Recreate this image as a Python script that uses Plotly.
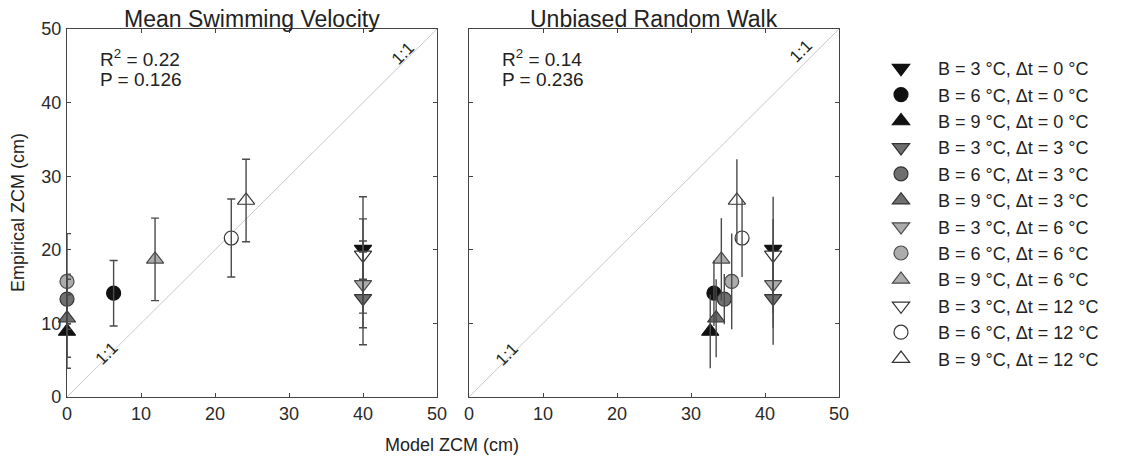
import plotly.graph_objects as go

# Treatment groups: base temperature B and temperature rise dt
labels = [
    "B = 3 °C, Δt = 0 °C", "B = 6 °C, Δt = 0 °C", "B = 9 °C, Δt = 0 °C",
    "B = 3 °C, Δt = 3 °C", "B = 6 °C, Δt = 3 °C", "B = 9 °C, Δt = 3 °C",
    "B = 3 °C, Δt = 6 °C", "B = 6 °C, Δt = 6 °C", "B = 9 °C, Δt = 6 °C",
    "B = 3 °C, Δt = 12 °C", "B = 6 °C, Δt = 12 °C", "B = 9 °C, Δt = 12 °C",
]
symbols = ["triangle-down", "circle", "triangle-up"] * 4
fills = ["#111111"] * 3 + ["#6f6f6f"] * 3 + ["#acacac"] * 3 + ["#ffffff"] * 3
edges = ["#111111"] * 3 + ["#333333"] * 3 + ["#4a4a4a"] * 3 + ["#333333"] * 3

# Model-predicted ZCM (cm) for each model
model_msv = [40.0, 6.3, 0.0, 40.0, 0.0, 0.0, 40.0, 0.0, 11.9, 40.0, 22.2, 24.2]
model_urw = [41.1, 33.1, 32.6, 41.1, 34.5, 33.4, 41.1, 35.5, 34.1, 41.1, 36.9, 36.2]

# Empirical ZCM (cm) with standard errors
empirical = [20.1, 14.1, 8.9, 13.4, 13.3, 10.7, 15.3, 15.7, 18.7, 19.3, 21.6, 26.7]
emp_err = [4.1, 4.45, 5.0, 6.3, 3.4, 5.3, 5.9, 6.5, 5.6, 7.9, 5.3, 5.6]

stats_msv = ["R<sup>2</sup> = 0.22", "P = 0.126"]
stats_urw = ["R<sup>2</sup> = 0.14", "P = 0.236"]
titles = ["Mean Swimming Velocity", "Unbiased Random Walk"]

FONT = "Arial, Liberation Sans, sans-serif"
W, H = 1127, 464

fig = go.Figure()

panels = [("x", "y", model_msv, 4), ("x2", "y2", model_urw, 0)]

for xa, ya, model, capw in panels:
    # 1:1 reference line
    fig.add_trace(go.Scatter(
        x=[0, 50], y=[0, 50], xaxis=xa, yaxis=ya, mode="lines",
        line=dict(color="#c9c9c9", width=1), showlegend=False, hoverinfo="skip"))
    for i, lab in enumerate(labels):
        sym = symbols[i]
        size = 14 if sym == "circle" else 15
        fig.add_trace(go.Scatter(
            x=[model[i]], y=[empirical[i]], xaxis=xa, yaxis=ya, mode="markers",
            name=lab, legendgroup=lab, showlegend=(xa == "x"), cliponaxis=False,
            marker=dict(symbol=sym, size=size, color=fills[i],
                        line=dict(color=edges[i], width=1.2))))
    # error bars drawn over the markers
    fig.add_trace(go.Scatter(
        x=model, y=empirical, xaxis=xa, yaxis=ya, mode="markers",
        marker=dict(size=1, color="rgba(0,0,0,0)"), cliponaxis=False,
        error_y=dict(type="data", array=emp_err, visible=True,
                     color="#4a4a4a", thickness=1.4, width=capw),
        showlegend=False, hoverinfo="skip"))

axis_common = dict(range=[0, 50], dtick=10, ticks="inside", ticklen=4,
                   tickcolor="#444", showline=True, linecolor="#444", linewidth=1.3,
                   mirror="ticks", showgrid=False, zeroline=False, automargin=False)
tickfont = dict(family=FONT, size=18, color="#2a2a2a")

x0a, x1a = 67 / W, 437 / W
x0b, x1b = 469 / W, 839 / W
yb, yt = 1 - 397 / H, 1 - 29 / H

fig.update_layout(
    width=W, height=H,
    margin=dict(l=0, r=0, t=0, b=0, autoexpand=False),
    paper_bgcolor="white", plot_bgcolor="white",
    font=dict(family=FONT, color="#222"),
    xaxis=dict(domain=[x0a, x1a], anchor="y", tickfont=tickfont,
               ticklabelstandoff=0, **axis_common),
    yaxis=dict(domain=[yb, yt], anchor="x", tickfont=tickfont,
               ticklabelstandoff=1, **axis_common),
    xaxis2=dict(domain=[x0b, x1b], anchor="y2", tickfont=tickfont,
                ticklabelstandoff=0, **axis_common),
    yaxis2=dict(domain=[yb, yt], anchor="x2", showticklabels=False, **axis_common),
    legend=dict(x=864 / W, y=1 - 50 / H, xanchor="left", yanchor="top",
                font=dict(family=FONT, size=18, color="#222"),
                bgcolor="rgba(0,0,0,0)", tracegroupgap=0, itemwidth=64),
)

ann = []
# panel titles
for title, (a, b) in zip(titles, [(x0a, x1a), (x0b, x1b)]):
    ann.append(dict(text=title, x=(a + b) / 2, y=1 - 19 / H, xref="paper", yref="paper",
                    xanchor="center", yanchor="middle", showarrow=False,
                    font=dict(family=FONT, size=23, color="#222")))
# statistics text
for (xr, yr), st in zip([("x", "y"), ("x2", "y2")], [stats_msv, stats_urw]):
    ann.append(dict(text=st[0], x=4.2, y=46.1, xref=xr, yref=yr, xanchor="left",
                    yanchor="middle", showarrow=False,
                    font=dict(family=FONT, size=19, color="#222")))
    ann.append(dict(text=st[1], x=4.2, y=43.2, xref=xr, yref=yr, xanchor="left",
                    yanchor="middle", showarrow=False,
                    font=dict(family=FONT, size=19, color="#222")))
# 1:1 labels along the diagonal
for xr, yr, pts in [("x", "y", [(5.4, 5.9), (45.4, 46.7)]),
                    ("x2", "y2", [(5.1, 5.8), (44.8, 47.0)])]:
    for px, py in pts:
        ann.append(dict(text="1:1", x=px, y=py, xref=xr, yref=yr, textangle=-45,
                        xanchor="center", yanchor="middle", showarrow=False,
                        font=dict(family=FONT, size=17, color="#222")))
# shared axis titles
ann.append(dict(text="Model ZCM (cm)", x=452 / W, y=1 - 445 / H, xref="paper", yref="paper",
                xanchor="center", yanchor="middle", showarrow=False,
                font=dict(family=FONT, size=18, color="#222")))
ann.append(dict(text="Empirical ZCM (cm)", x=18 / W, y=1 - 213 / H, xref="paper",
                yref="paper", textangle=-90, xanchor="center", yanchor="middle",
                showarrow=False, font=dict(family=FONT, size=18, color="#222")))

fig.update_layout(annotations=ann)
fig.write_html("out.html")
